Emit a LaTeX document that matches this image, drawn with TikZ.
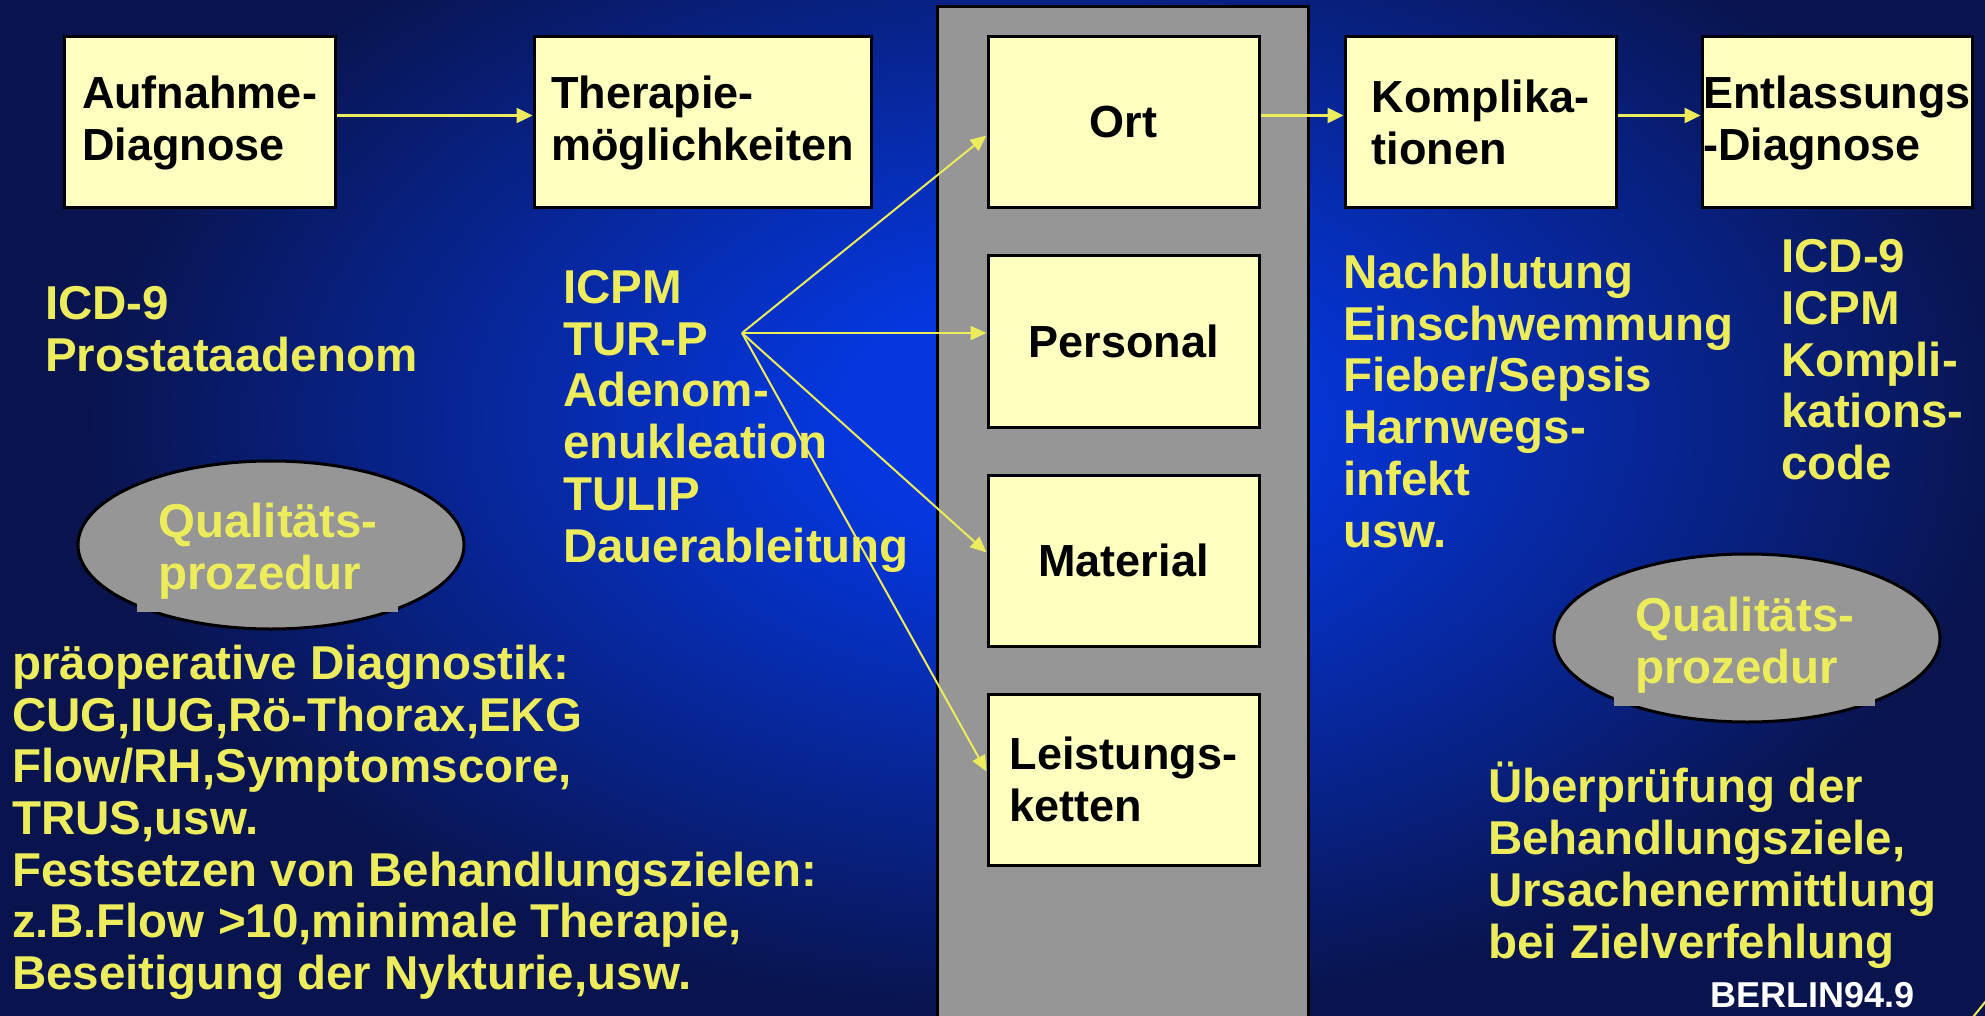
\documentclass[tikz,border=0pt]{standalone}
\usepackage{fontspec}
\setmainfont{Liberation Sans}
\usetikzlibrary{arrows.meta,shapes.geometric}

\begin{document}
\begin{tikzpicture}[x=1pt,y=-1pt,
  procbox/.style={draw=black,line width=3pt,fill=boxfill,minimum width=271pt,minimum height=171pt,inner sep=0pt,align=left,font=\fontsize{45}{52}\selectfont\bfseries},
  ytext/.style={text=yellowtext,anchor=base west,inner sep=0pt,align=left,font=\fontsize{47.5}{51.7}\selectfont\bfseries},
  flow/.style={draw=yellowtext,line width=2.5pt,-{Triangle[length=16pt,width=15pt]}},
  fan/.style={draw=yellowtext,line width=2pt,-{Triangle[length=16pt,width=14pt]}},
  qualell/.style={ellipse,draw=black,line width=3pt,fill=panelgray,minimum width=386pt,minimum height=168pt},
  qualtext/.style={ytext,fill=panelgray,inner xsep=21pt,inner ysep=13pt}]
\definecolor{bgin}{RGB}{5,55,222}        %bright blue
\definecolor{bgout}{RGB}{9,20,78}        %navy
\definecolor{yellowtext}{RGB}{236,236,92}
\definecolor{boxfill}{RGB}{255,255,192}
\definecolor{panelgray}{RGB}{150,150,150}
\pgfdeclareradialshading{slidebg}{\pgfpoint{0bp}{0bp}}{color(0bp)=(bgin); color(5bp)=(bgin); color(23bp)=(bgout); color(40bp)=(bgout)}
\useasboundingbox (0,0) rectangle (1985,1016);
% background
\begin{scope}
\clip (0,0) rectangle (1985,1016);
\shade[shading=slidebg] (0,-230) rectangle (2100,1070);
\end{scope}
\draw[fill=panelgray,line width=3pt] (937,7) rectangle (1308,1030);
% boxes
\node[procbox] (aufn) at (199.5,122.5) {Aufnahme-\\Diagnose};
\node[procbox,minimum width=337pt] (ther) at (702.5,122.5) {Therapie-\\möglichkeiten};
\node[procbox] (ort) at (1123.5,122.5) {Ort};
\node[procbox] (pers) at (1123.5,341.5) {Personal};
\node[procbox] (mat) at (1123.5,560.5) {Material};
\node[procbox] (leist) at (1123.5,779.5) {Leistungs-\\ketten};
\node[procbox] (kompl) at (1480.5,122.5) {Komplika-\\tionen};
\node[procbox,minimum width=270pt] (entl) at (1837,122.5) {Entlassungs\\-Diagnose};
\draw[flow] ([yshift=7pt]aufn.east) -- ([yshift=7pt]ther.west);
\draw[flow] ([yshift=7pt]ort.east) -- ([yshift=7pt]kompl.west);
\draw[flow] ([yshift=7pt]kompl.east) -- ([yshift=7pt]entl.west);
% lists (anchored at the last baseline)
\node[ytext] (icd) at (45,371.5) {ICD-9\\Prostataadenom};
\node[ytext] (therlist) at (563,562) {ICPM\\TUR-P\\Adenom-\\enukleation\\TULIP\\Dauerableitung};
\node[ytext] (diag) at (12,989.5) {präoperative Diagnostik:\\CUG,IUG,Rö-Thorax,EKG\\Flow/RH,Symptomscore,\\TRUS,usw.\\Festsetzen von Behandlungszielen:\\z.B.Flow >10,minimale Therapie,\\Beseitigung der Nykturie,usw.};
\node[ytext] (kompllist) at (1343,547) {Nachblutung\\Einschwemmung\\Fieber/Sepsis\\Harnwegs-\\infekt\\usw.};
\node[ytext] (entllist) at (1781,479.5) {ICD-9\\ICPM\\Kompli-\\kations-\\code};
\node[ytext] (pruef) at (1488,958) {Überprüfung der\\Behandlungsziele,\\Ursachenermittlung\\bei Zielverfehlung};
% fan to the resources
\coordinate (fanpt) at (742,333);
\draw[fan] (fanpt) -- ([yshift=-13pt]ort.west);
\draw[fan] (fanpt) -- (fanpt -| pers.west);
\draw[fan] (fanpt) -- ([yshift=8pt]mat.west);
\draw[fan] (fanpt) -- ([yshift=8pt]leist.west);
% quality procedures
\node[qualell] (qell1) at (271,545) {};
\node[qualtext] (qtxt1) at (137,589) {Qualitäts-\\prozedur};
\node[qualell] (qell2) at (1747,638) {};
\node[qualtext] (qtxt2) at (1614,683) {Qualitäts-\\prozedur};
\node[anchor=base west,inner sep=0pt,text=white,font=\fontsize{36}{40}\selectfont\bfseries] (berlin) at (1710,1007) {BERLIN94.9};
\draw[yellowtext,line width=2pt] (1973,1017) -- (1990,996);
\end{tikzpicture}
\end{document}
